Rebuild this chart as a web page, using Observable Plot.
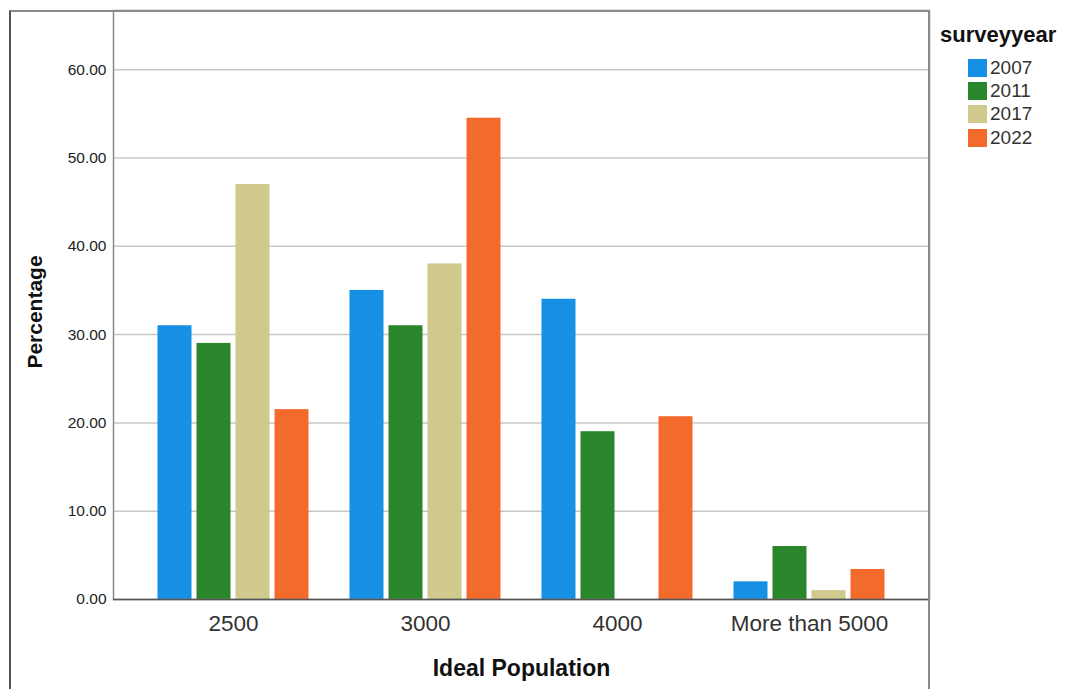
<!DOCTYPE html>
<html><head><meta charset="utf-8">
<script src="https://cdn.jsdelivr.net/npm/d3@7"></script>
<script src="https://cdn.jsdelivr.net/npm/@observablehq/plot@0.6"></script>
<style>
body{margin:0;background:#fff;font-family:"Liberation Sans",Arial,sans-serif;}
#wrap{position:relative;width:1067px;height:689px;overflow:hidden;}
#border{position:absolute;left:9px;top:10px;width:921px;height:700px;border-left:2px solid #555;border-top:2px solid #8a8a8a;border-right:2px solid #8a8a8a;box-sizing:border-box;pointer-events:none;}
#chart{position:absolute;left:0;top:0;}
#legend{position:absolute;left:0;top:0;color:#222;}
#legend .title{position:absolute;left:940px;top:23px;line-height:24px;font-weight:bold;font-size:22px;white-space:nowrap;color:#111;}
#legend .row{position:absolute;left:968px;display:flex;align-items:center;height:23.3px;font-size:19px;color:#333;white-space:nowrap;}
#legend .sw{width:19px;height:18px;margin-right:3px;}
svg [aria-label^="x-axis"] text{font-size:22.5px;fill:#333;}
svg [aria-label^="y-axis"] text{font-size:15.5px;fill:#222;}
</style>
</head><body>
<div id="wrap"><div id="chart"></div><div id="border"></div><div id="legend"></div></div>
<script>
const categories = ["2500", "3000", "4000", "More than 5000"];
const years = ["2007", "2011", "2017", "2022"];
const v2007 = [31.0, 35.0, 34.0, 2.0];
const v2011 = [29.0, 31.0, 19.0, 6.0];
const v2017 = [47.0, 38.0, 0.0, 1.0];
const v2022 = [21.5, 54.5, 20.7, 3.4];
const colors = ["#1590e5", "#2a862a", "#d0ca8e", "#f26a2c"];
const yTicks = [0, 10, 20, 30, 40, 50, 60];

const series = [v2007, v2011, v2017, v2022];
const barStep = 39;
const barMarks = series.map((vals, j) =>
  Plot.barY(
    categories.map((c, i) => ({category: c, year: years[j], value: vals[i]})).filter(d => d.value > 0),
    {x: "category", y: "value", fill: colors[j], dx: (j - 1.5) * barStep}
  )
);

const chart = Plot.plot({
  width: 1067,
  height: 689,
  marginLeft: 113,
  marginTop: 10,
  marginRight: 138,
  marginBottom: 90,
  style: {fontFamily: "Liberation Sans, Arial, sans-serif", background: "#fff", color: "#222"},
  x: {domain: categories, paddingInner: 0.8236, paddingOuter: 0.529, tickSize: 0, tickPadding: 16, label: null},
  y: {domain: [0, 66.7], ticks: yTicks, tickFormat: d3.format(".2f"), tickSize: 0, tickPadding: 7, label: null},
  marks: [
    Plot.ruleY(yTicks.filter(t => t > 0), {stroke: "#c8c8c8", strokeWidth: 1.5}),
    ...barMarks,
    Plot.frame({stroke: "#8a8a8a", strokeWidth: 1.5}),
    Plot.ruleY([0], {stroke: "#555", strokeWidth: 1.5}),
    Plot.text(["Percentage"], {text: d => d, frameAnchor: "left", textAnchor: "middle", lineAnchor: "middle", dx: -78, dy: 7, rotate: -90, fontSize: 21, fontWeight: "bold", fill: "#111"}),
    Plot.text(["Ideal Population"], {text: d => d, frameAnchor: "bottom", textAnchor: "middle", lineAnchor: "middle", dy: 69.5, fontSize: 23, fontWeight: "bold", fill: "#111"})
  ]
});
document.getElementById("chart").appendChild(chart);

const legend = document.getElementById("legend");
const t = document.createElement("div");
t.className = "title"; t.textContent = "surveyyear";
legend.appendChild(t);
years.forEach((y, j) => {
  const r = document.createElement("div"); r.className = "row";
  r.style.top = (56 + j * 23.3) + "px";
  const s = document.createElement("div"); s.className = "sw"; s.style.background = colors[j];
  const l = document.createElement("span"); l.textContent = y;
  r.appendChild(s); r.appendChild(l); legend.appendChild(r);
});
</script>
</body></html>
